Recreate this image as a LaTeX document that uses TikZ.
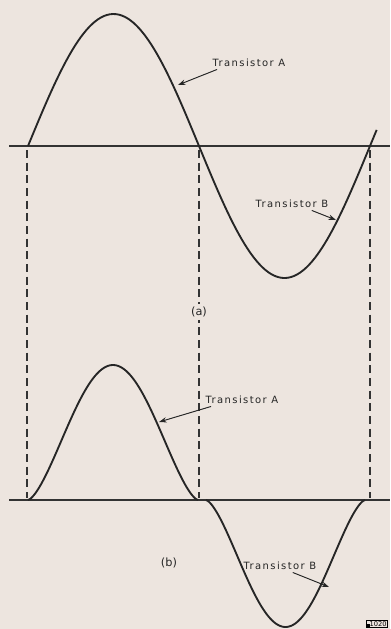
\documentclass[tikz,border=0pt]{standalone}
\usepackage{fontspec}
\setmainfont{DejaVu Sans}
\newfontfamily\lblfont[LetterSpace=14]{DejaVu Sans}
\usetikzlibrary{arrows.meta}
\definecolor{paper}{RGB}{237,229,223}
\tikzset{
  wave/.style  ={line width=1.4pt, draw=black!85},
  axis/.style  ={line width=0.9pt, draw=black!80},
  guide/.style ={dash pattern=on 6pt off 3.5pt, line width=0.8pt, draw=black!80},
  lbl/.style   ={font=\lblfont\fontsize{7.5}{8}\selectfont, inner sep=1pt, text=black!85},
  lead/.style  ={-{Stealth[length=2mm,width=1.4mm]}, line width=0.7pt, draw=black!85, fill=black!85},
  tag/.style   ={font=\fontsize{8.5}{9}\selectfont, fill=paper, inner sep=2pt, text=black!85}
}

\begin{document}
\begin{tikzpicture}[x=0.75pt, y=-0.75pt]
  \fill[paper] (0,0) rectangle (390,629);
  \useasboundingbox (0,0) rectangle (390,629);

  % axes
  \coordinate (a0) at (9,146);   \coordinate (a1) at (390,146);
  \coordinate (b0) at (9,500);   \coordinate (b1) at (390,500);
  \draw[axis] (a0) -- (a1);
  \draw[axis] (b0) -- (b1);

  % (a) full sine wave
  \draw[wave] plot[domain=0:367, samples=120] ({28+0.95*\x},{146-132*sin(\x)});

  % (b) the two half waves
  \draw[wave] plot[domain=0:180, samples=90]
        ({28+0.9444*\x},{500-135*sqrt(abs(sin(\x)))*abs(sin(\x))});
  \draw[wave] plot[domain=0:180, samples=90]
        ({206+0.8833*\x},{500+127*sqrt(abs(sin(\x)))*abs(sin(\x))});

  % dashed guides
  \coordinate (g1t) at (27,150);  \coordinate (g1b) at (27,498);
  \coordinate (g2t) at (199,150); \coordinate (g2b) at (199,498);
  \coordinate (g3t) at (370,150); \coordinate (g3b) at (370,498);
  \draw[guide] (g1t) -- (g1b);
  \draw[guide] (g2t) -- (g2b);
  \draw[guide] (g3t) -- (g3b);

  \node[tag] (ta) at (199,312) {(a)};
  \node[tag] (tb) at (169,563) {(b)};

  % labels with leaders
  \node[lbl, anchor=west] (upA) at (211,63) {Transistor A};
  \coordinate (upAc) at (178,85);
  \draw[lead] (upA.south west) ++(6,1) coordinate (upAs) -- (upAc);

  \node[lbl, anchor=west] (upB) at (254,204) {Transistor B};
  \coordinate (upBc) at (336,220);
  \draw[lead] (upB.south east) ++(-18,1) coordinate (upBs) -- (upBc);

  \node[lbl, anchor=west] (loA) at (204,400) {Transistor A};
  \coordinate (loAc) at (159,422);
  \draw[lead] (loA.south west) ++(7,1) coordinate (loAs) -- (loAc);

  \node[lbl, anchor=west] (loB) at (242,566) {Transistor B};
  \coordinate (loBc) at (329,587);
  \draw[lead] (loB.south east) ++(-25,1) coordinate (loBs) -- (loBc);

  % plate number
  \node[draw, line width=0.5pt, font=\fontsize{5}{6}\selectfont, inner sep=0.8pt,
        anchor=south east] (num) at (388,628) {\rule{2pt}{2pt}1020};
\end{tikzpicture}
\end{document}
